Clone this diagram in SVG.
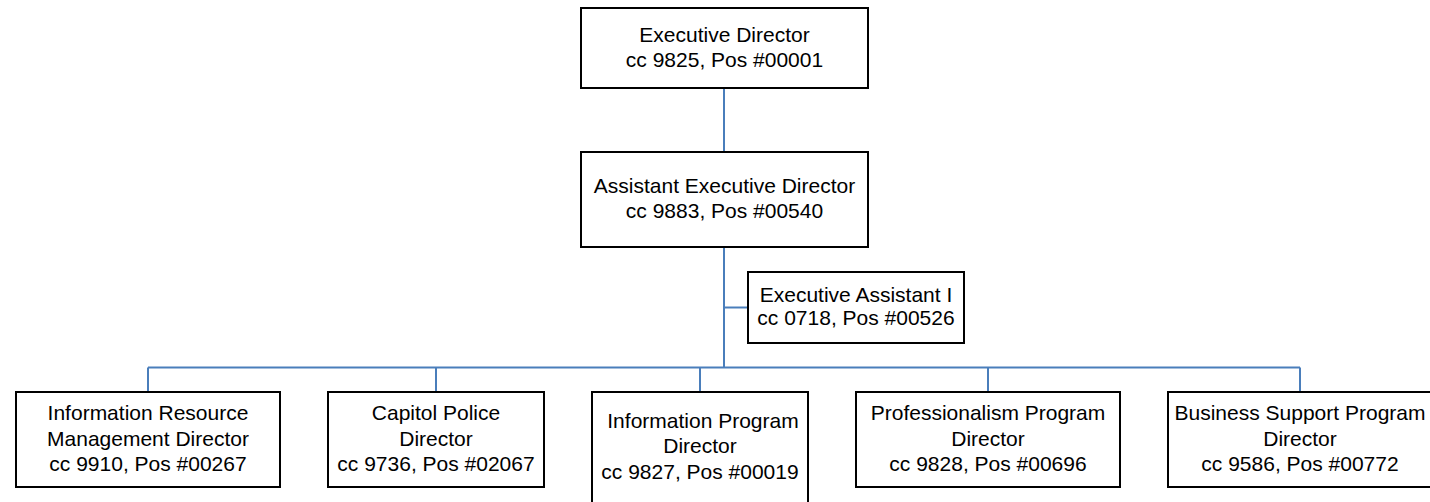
<svg xmlns="http://www.w3.org/2000/svg" width="1430" height="502" viewBox="0 0 1430 502">
  <style>
    .box { fill: #ffffff; stroke: #000000; stroke-width: 2; }
    .lbl { font-family: "Liberation Sans", Arial, sans-serif; font-size: 21px; fill: #000000; text-anchor: middle; }
    .conn { fill: none; stroke: #4a7ebb; stroke-width: 2; }
  </style>
  <rect width="1430" height="502" fill="#ffffff"/>

  <!-- reporting lines -->
  <g id="connectors">
    <path class="conn" d="M724 88 V152"/>
    <path class="conn" d="M724 247 V367.5"/>
    <path class="conn" d="M724 307.5 H748"/>
    <path class="conn" d="M148 367.5 H1300"/>
    <path class="conn" d="M148 367.5 V392"/>
    <path class="conn" d="M436 367.5 V392"/>
    <path class="conn" d="M700 367.5 V392"/>
    <path class="conn" d="M988 367.5 V392"/>
    <path class="conn" d="M1300 367.5 V392"/>
  </g>

  <g id="executive-director">
    <rect class="box" x="581" y="8" width="287" height="80"/>
    <text class="lbl" x="724.5" y="42">Executive Director</text>
    <text class="lbl" x="724.5" y="67">cc 9825, Pos #00001</text>
  </g>

  <g id="assistant-executive-director">
    <rect class="box" x="581" y="152" width="287" height="95"/>
    <text class="lbl" x="724.5" y="193">Assistant Executive Director</text>
    <text class="lbl" x="724.5" y="218">cc 9883, Pos #00540</text>
  </g>

  <g id="executive-assistant">
    <rect class="box" x="748" y="272" width="216" height="71"/>
    <text class="lbl" x="856" y="302">Executive Assistant I</text>
    <text class="lbl" x="856" y="325">cc 0718, Pos #00526</text>
  </g>

  <g id="irm-director">
    <rect class="box" x="16" y="392" width="264" height="95"/>
    <text class="lbl" x="148" y="420">Information Resource</text>
    <text class="lbl" x="148" y="446">Management Director</text>
    <text class="lbl" x="148" y="471">cc 9910, Pos #00267</text>
  </g>

  <g id="capitol-police-director">
    <rect class="box" x="328" y="392" width="216" height="95"/>
    <text class="lbl" x="436" y="420">Capitol Police</text>
    <text class="lbl" x="436" y="446">Director</text>
    <text class="lbl" x="436" y="471">cc 9736, Pos #02067</text>
  </g>

  <g id="information-program-director">
    <rect class="box" x="592" y="392" width="216" height="130"/>
    <text class="lbl" x="703" y="428">Information Program</text>
    <text class="lbl" x="700" y="453">Director</text>
    <text class="lbl" x="700" y="479">cc 9827, Pos #00019</text>
  </g>

  <g id="professionalism-program-director">
    <rect class="box" x="856" y="392" width="264" height="95"/>
    <text class="lbl" x="988" y="420">Professionalism Program</text>
    <text class="lbl" x="988" y="446">Director</text>
    <text class="lbl" x="988" y="471">cc 9828, Pos #00696</text>
  </g>

  <g id="business-support-program-director">
    <rect class="box" x="1168" y="392" width="264" height="95"/>
    <text class="lbl" x="1300" y="420">Business Support Program</text>
    <text class="lbl" x="1300" y="446">Director</text>
    <text class="lbl" x="1300" y="471">cc 9586, Pos #00772</text>
  </g>
</svg>
